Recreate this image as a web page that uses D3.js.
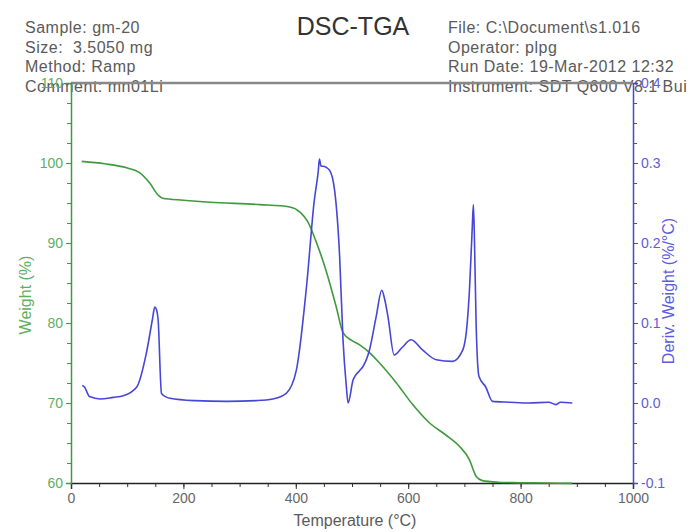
<!DOCTYPE html>
<html>
<head>
<meta charset="utf-8">
<script src="https://cdn.jsdelivr.net/npm/d3@7"></script>
<style>
  html, body { margin: 0; padding: 0; background: #fff; }
  svg { display: block; }
  text { font-family: "Liberation Sans", Arial, sans-serif; white-space: pre; }
</style>
</head>
<body>
<svg id="chart" width="697" height="532"></svg>
<script>
// ---- Data ----
const headerLeft = ["Sample: gm-20", "Size:  3.5050 mg", "Method: Ramp", "Comment: mn01Li"];
const headerRight = ["File: C:\\Document\\s1.016", "Operator: plpg", "Run Date: 19-Mar-2012 12:32", "Instrument: SDT Q600 V8.1 Bui"];
const title = "DSC-TGA";

const xTicks = [0, 200, 400, 600, 800, 1000];
const weightTicks = [60, 70, 80, 90, 100, 110];
const derivTicks = [-0.1, 0.0, 0.1, 0.2, 0.3, 0.4];
const derivTickLabels = ["-0.1", "0.0", "0.1", "0.2", "0.3", "0.4"];

// Weight (%) vs temperature (°C)
const tempW = [19, 60, 99, 122, 140, 155, 163, 200, 247, 336, 389, 407, 421, 436, 454, 472, 484, 500, 513, 531, 549, 578, 608, 638, 667, 691, 709, 721, 732, 760, 785, 840, 892];
const weight = [100.2, 99.9, 99.4, 98.8, 97.5, 96.0, 95.6, 95.35, 95.1, 94.8, 94.5, 93.9, 92.7, 90.2, 86.5, 82.0, 78.8, 77.8, 77.3, 76.3, 75.0, 72.6, 69.8, 67.5, 66.0, 64.6, 62.9, 60.8, 60.3, 60.1, 60.05, 60.0, 59.95];

// Deriv. weight (%/°C) vs temperature (°C)
const tempD = [20, 24, 33, 52, 75, 93, 117, 134, 145, 149, 152, 155, 161, 168, 176, 220, 277, 330, 359, 383, 401, 419, 433, 440, 442, 445, 448, 460, 469, 478, 484, 490, 493, 502, 513, 519, 531, 543, 553, 558, 564, 575, 590, 605, 626, 650, 679, 697, 705, 709, 714, 716, 718, 721, 726, 738, 750, 780, 815, 850, 863, 871, 892];
const deriv = [0.022, 0.02, 0.008, 0.005, 0.007, 0.009, 0.02, 0.062, 0.105, 0.12, 0.117, 0.104, 0.012, 0.008, 0.006, 0.003, 0.002, 0.003, 0.005, 0.012, 0.041, 0.145, 0.254, 0.29, 0.305, 0.296, 0.296, 0.291, 0.266, 0.183, 0.079, 0.02, 0.0, 0.029, 0.040, 0.045, 0.066, 0.108, 0.141, 0.13, 0.108, 0.06, 0.07, 0.079, 0.066, 0.054, 0.052, 0.066, 0.1, 0.141, 0.22, 0.248, 0.2, 0.095, 0.033, 0.02, 0.002, 0.001, 0.0, 0.001, -0.002, 0.001, 0.0];

// ---- Drawing ----
const svg = d3.select("#chart");
const green = "#3f9a3f", greenTxt = "#5fae5f";
const blue = "#4646d8", blueTxt = "#5c5cdc";
const grayTxt = "#5a5a5a";

const x = d3.scaleLinear().domain([0, 1000]).range([71, 633]);
const yW = d3.scaleLinear().domain([60, 110]).range([483, 83]);
const yD = d3.scaleLinear().domain([-0.1, 0.4]).range([483, 83]);

// header
const hl = svg.append("g").attr("fill", grayTxt).attr("font-size", 16).attr("letter-spacing", 0.5);
headerLeft.forEach((t, i) => hl.append("text").attr("x", 25).attr("y", 33 + i * 19.5).text(t));
const hr = svg.append("g").attr("fill", grayTxt).attr("font-size", 16).attr("letter-spacing", 0.5);
headerRight.forEach((t, i) => hr.append("text").attr("x", 448).attr("y", 33 + i * 19.5).text(t));
svg.append("text").attr("x", 353).attr("y", 35).attr("text-anchor", "middle")
  .attr("font-size", 25).attr("fill", "#333").text(title);

// top frame line
svg.append("line").attr("x1", x(0)).attr("x2", x(1000)).attr("y1", yW(110)).attr("y2", yW(110))
  .attr("stroke", "#888").attr("stroke-width", 2.5);

// minor ticks
const minorW = d3.range(60, 110.01, 2.5);
const minorD = d3.range(-0.1, 0.4001, 0.025);
const minorX = d3.range(0, 1000.01, 50);

const gxm = svg.append("g").attr("transform", `translate(0,${yW(60)})`)
  .call(d3.axisBottom(x).tickValues(minorX).tickSize(4).tickFormat(""));
gxm.select(".domain").remove();
gxm.selectAll("line").attr("stroke", "#333");

const gx = svg.append("g").attr("transform", `translate(0,${yW(60)})`)
  .call(d3.axisBottom(x).tickValues(xTicks).tickSize(6).tickPadding(4).tickFormat(d3.format("d")));
gx.select(".domain").attr("stroke", "#222").attr("stroke-width", 1.5);
gx.selectAll("line").attr("stroke", "#333");
gx.selectAll("text").attr("font-size", 14).attr("fill", "#666").attr("font-family", "Liberation Sans, Arial, sans-serif");

const gym = svg.append("g").attr("transform", `translate(${x(0)},0)`)
  .call(d3.axisLeft(yW).tickValues(minorW).tickSize(4).tickFormat(""));
gym.select(".domain").remove();
gym.selectAll("line").attr("stroke", green);

const gy = svg.append("g").attr("transform", `translate(${x(0)},0)`)
  .call(d3.axisLeft(yW).tickValues(weightTicks).tickSize(5).tickPadding(3).tickFormat(d3.format("d")));
gy.select(".domain").attr("stroke", green).attr("stroke-width", 1.5);
gy.selectAll("line").attr("stroke", green);
gy.selectAll("text").attr("font-size", 14).attr("fill", greenTxt).attr("font-family", "Liberation Sans, Arial, sans-serif");

const gdm = svg.append("g").attr("transform", `translate(${x(1000)},0)`)
  .call(d3.axisRight(yD).tickValues(minorD).tickSize(4).tickFormat(""));
gdm.select(".domain").remove();
gdm.selectAll("line").attr("stroke", blue);

const gd = svg.append("g").attr("transform", `translate(${x(1000)},0)`)
  .call(d3.axisRight(yD).tickValues(derivTicks).tickSize(5).tickPadding(3)
    .tickFormat((d, i) => derivTickLabels[i]));
gd.select(".domain").attr("stroke", blue).attr("stroke-width", 1.5);
gd.selectAll("line").attr("stroke", blue);
gd.selectAll("text").attr("font-size", 14).attr("fill", blueTxt).attr("font-family", "Liberation Sans, Arial, sans-serif");

// axis titles
svg.append("text").attr("x", 355).attr("y", 526).attr("text-anchor", "middle")
  .attr("font-size", 16).attr("fill", grayTxt).text("Temperature (°C)");
svg.append("text").attr("transform", `translate(31,${yW(83.5)}) rotate(-90)`).attr("text-anchor", "middle")
  .attr("font-size", 16).attr("fill", greenTxt).text("Weight (%)");
svg.append("text").attr("transform", `translate(674,${yD(0.14)}) rotate(-90)`).attr("text-anchor", "middle")
  .attr("font-size", 16).attr("fill", blueTxt).text("Deriv. Weight (%/°C)");

// curves
const lineW = d3.line().x((d, i) => x(tempW[i])).y(d => yW(d)).curve(d3.curveMonotoneX);
const lineD = d3.line().x((d, i) => x(tempD[i])).y(d => yD(d)).curve(d3.curveMonotoneX);
svg.append("path").attr("d", lineW(weight)).attr("fill", "none").attr("stroke", green).attr("stroke-width", 1.6);
svg.append("path").attr("d", lineD(deriv)).attr("fill", "none").attr("stroke", blue).attr("stroke-width", 1.6);
</script>
</body>
</html>
